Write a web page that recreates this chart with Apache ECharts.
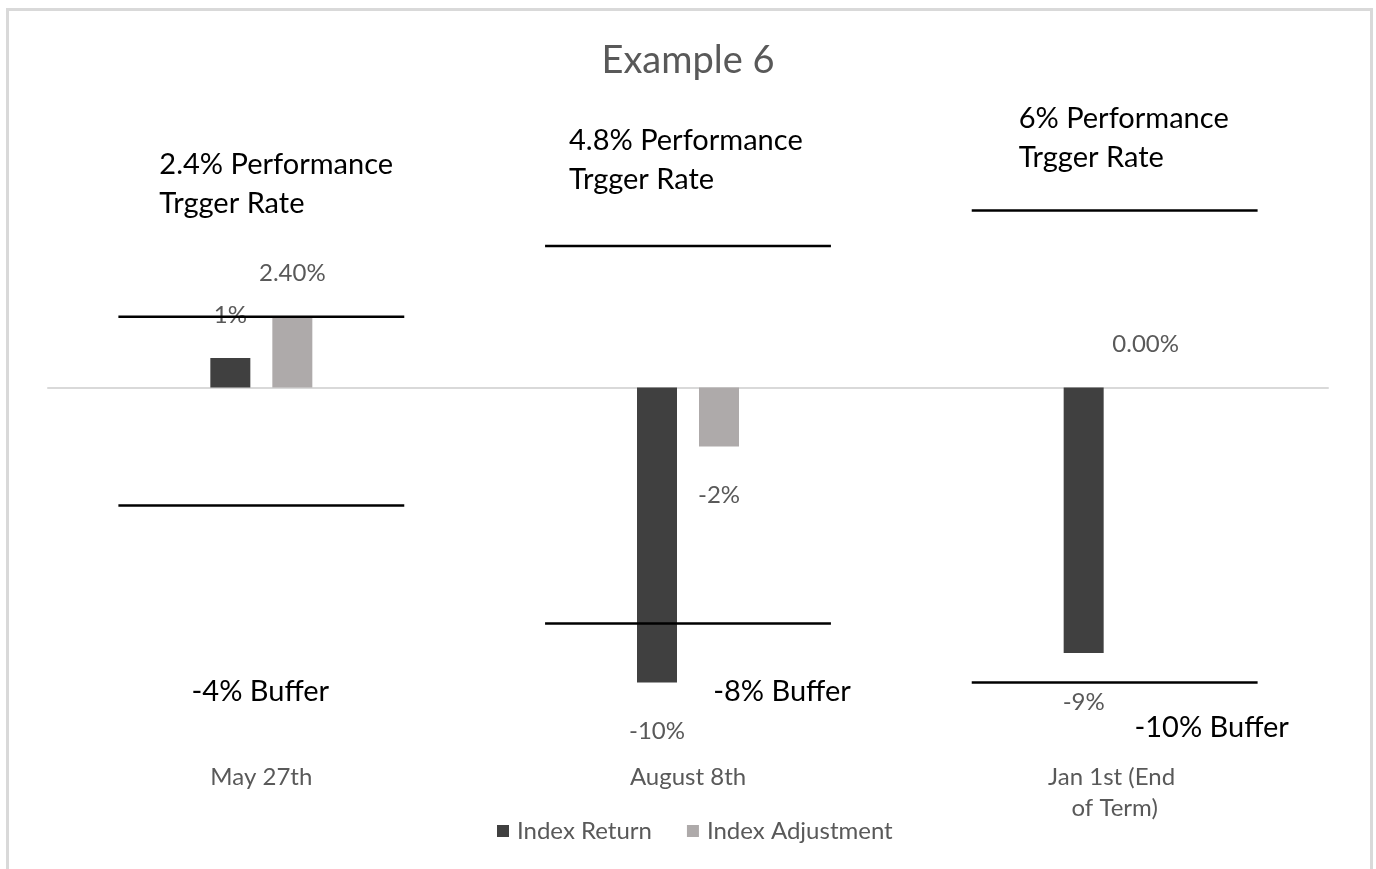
<!DOCTYPE html>
<html>
<head>
<meta charset="utf-8">
<script src="https://cdn.jsdelivr.net/npm/echarts@6/dist/echarts.min.js"></script>
<style>
  html, body { margin: 0; padding: 0; background: #fff; }
  #chart { width: 1376px; height: 869px; }
</style>
</head>
<body>
<div id="chart"></div>
<script>
const categories = ['May 27th', 'August 8th', 'Jan 1st (End of Term)'];
const indexReturn = [1, -10, -9];
const indexAdjustment = [2.4, -2, 0];
const returnLabels = ['1%', '-10%', '-9%'];
const adjustLabels = ['2.40%', '-2%', '0.00%'];
const triggerRates = [2.4, 4.8, 6];
const bufferRates = [-4, -8, -10];

// where Excel's text boxes sit, relative to the category centre and the line
const triggerOffsets = [[-102, -132.5], [-119, -85.5], [-96, -72.5]];
const bufferOffsets = [[-1, 186], [94, 68], [97, 45]];

const FONT = 'Lato, "Noto Sans", sans-serif';
const LABEL_GREY = '#595959';

const chart = echarts.init(document.getElementById('chart'));

const levelData = categories.map((c, i) => [i, triggerRates[i], bufferRates[i]]);

// label above positive (and zero) bars, below negative ones
const barItems = (values, labels) => values.map((v, i) => ({
  value: v,
  label: {
    position: v >= 0 ? 'top' : 'bottom',
    distance: v >= 0 ? 31 : 37,
    formatter: labels[i]
  }
}));

const option = {
  backgroundColor: '#fff',
  animation: false,
  title: {
    text: 'Example 6',
    left: 'center',
    top: 37,
    textStyle: { fontFamily: FONT, fontSize: 38, fontWeight: 'normal', color: LABEL_GREY }
  },
  legend: {
    left: 492,
    top: 814,
    itemWidth: 12,
    itemHeight: 12,
    itemGap: 35,
    icon: 'rect',
    textStyle: { fontFamily: FONT, fontSize: 24, color: LABEL_GREY, padding: [0, 0, 0, 3] },
    data: ['Index Return', 'Index Adjustment']
  },
  graphic: [{
    type: 'rect',
    shape: { x: 7.5, y: 9.5, width: 1364, height: 900 },
    style: { fill: null, stroke: '#d9d9d9', lineWidth: 3 },
    silent: true
  }],
  grid: { left: 48, right: 48, top: 151.5, bottom: 127.5 },
  xAxis: [{
    type: 'category',
    data: categories,
    position: 'bottom',
    axisLine: { show: false, onZero: false },
    axisTick: { show: false },
    axisLabel: {
      fontFamily: FONT, fontSize: 24, color: LABEL_GREY, margin: 20,
      lineHeight: 31, width: 145, overflow: 'break', interval: 0
    }
  }, {
    type: 'category',
    data: categories,
    position: 'top',
    axisLine: { show: true, onZero: true, lineStyle: { color: '#d9d9d9', width: 2 } },
    axisTick: { show: false },
    axisLabel: { show: false }
  }],
  yAxis: {
    type: 'value',
    min: -12,
    max: 8,
    show: false,
    splitLine: { show: false }
  },
  series: [{
    name: 'Index Return',
    type: 'bar',
    data: barItems(indexReturn, returnLabels),
    barWidth: 40,
    barGap: '55%',
    itemStyle: { color: '#404040' },
    label: { show: true, fontFamily: FONT, fontSize: 24, color: LABEL_GREY },
    z: 2
  }, {
    name: 'Index Adjustment',
    type: 'bar',
    data: barItems(indexAdjustment, adjustLabels),
    barWidth: 40,
    itemStyle: { color: '#AEAAAA' },
    label: { show: true, fontFamily: FONT, fontSize: 24, color: LABEL_GREY },
    z: 2
  }, {
    name: 'levels',
    type: 'custom',
    data: levelData,
    encode: { x: 0, y: [1, 2] },
    clip: false,
    silent: true,
    z: 5,
    renderItem: (params, api) => {
      const i = api.value(0);
      const x = api.coord([i, 0])[0];
      const half = api.size([1, 0])[0] * 0.335;
      const yT = api.coord([i, api.value(1)])[1];
      const yB = api.coord([i, api.value(2)])[1];
      const lineStyle = { stroke: '#000', lineWidth: 2.5 };
      const to = triggerOffsets[i], bo = bufferOffsets[i];
      return {
        type: 'group',
        children: [
          { type: 'line', shape: { x1: x - half, y1: yT, x2: x + half, y2: yT }, style: lineStyle },
          { type: 'line', shape: { x1: x - half, y1: yB, x2: x + half, y2: yB }, style: lineStyle },
          {
            type: 'text', x: x + to[0], y: yT + to[1],
            style: {
              text: api.value(1) + '% Performance\nTrgger Rate',
              fill: '#000', fontFamily: FONT, fontSize: 29, lineHeight: 39,
              align: 'left', verticalAlign: 'middle'
            }
          },
          {
            type: 'text', x: x + bo[0], y: yB + bo[1],
            style: {
              text: api.value(2) + '% Buffer',
              fill: '#000', fontFamily: FONT, fontSize: 29,
              align: 'center', verticalAlign: 'middle'
            }
          }
        ]
      };
    }
  }]
};

chart.setOption(option);
</script>
</body>
</html>
